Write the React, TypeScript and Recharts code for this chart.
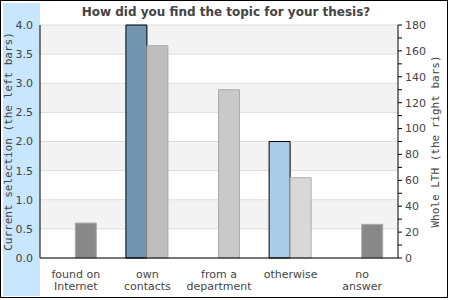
import React from 'react'
import { BarChart, Bar, XAxis, YAxis, CartesianGrid, Cell, Label } from 'recharts'

const categories = ['found on\nInternet', 'own\ncontacts', 'from a\ndepartment', 'otherwise', 'no\nanswer']
const currentSelection = [0, 4, 0, 2, 0]
const wholeLth = [27, 164, 130, 62, 26]

const leftTicks = [0, 0.5, 1, 1.5, 2, 2.5, 3, 3.5, 4]
const rightTicks = [0, 10, 20, 30, 40, 50, 60, 70, 80, 90, 100, 110, 120, 130, 140, 150, 160, 170, 180]

const currentColors = ['#7395b0', '#7395b0', '#7395b0', '#abcce8', '#7395b0']
const wholeColors = ['#888888', '#bebebe', '#c9c9c9', '#d8d8d8', '#888888']

const data = categories.map((category, i) => ({
  category,
  current: currentSelection[i],
  whole: wholeLth[i],
}))

const textColor = '#444'
const sans = 'DejaVu Sans, sans-serif'
const mono = 'DejaVu Sans Mono, monospace'

function CategoryTick({ x, y, payload }: any) {
  const lines = String(payload.value).split('\n')
  return (
    <text x={x} y={y} textAnchor="middle" fill={textColor} fontSize={11} fontFamily={sans}>
      {lines.map((line, i) => (
        <tspan key={i} x={x} dy={i === 0 ? 20 : 12}>
          {line}
        </tspan>
      ))}
    </text>
  )
}

function LeftTick({ x, y, payload }: any) {
  return (
    <text x={x} y={y} dy="0.355em" textAnchor="end" fill={textColor} fontSize={11} fontFamily={sans}>
      {Number(payload.value).toFixed(1)}
    </text>
  )
}

function RightTick({ x, y, payload }: any) {
  if (payload.value % 20 !== 0) return <g />
  return (
    <text x={x} y={y} dy="0.355em" textAnchor="start" fill={textColor} fontSize={11} fontFamily={sans}>
      {payload.value}
    </text>
  )
}

function axisTitle(text: string, cx: number) {
  return ({ viewBox }: any) => {
    const cy = viewBox ? viewBox.y + viewBox.height / 2 : 141.5
    return (
      <text
        transform={`translate(${cx}, ${cy}) rotate(-90)`}
        dy="0.355em"
        textAnchor="middle"
        fill={textColor}
        fontSize={11}
        fontFamily={mono}
      >
        {text}
      </text>
    )
  }
}

export default function App() {
  return (
    <div style={{ position: 'absolute', left: 0, top: 0, width: 450, height: 300, background: '#fff' }}>
      <div
        style={{
          position: 'absolute',
          left: 0,
          top: 0,
          width: 448,
          height: 298,
          border: '1px solid #000',
          boxSizing: 'border-box',
        }}
      />
      <div style={{ position: 'absolute', left: 3, top: 3, width: 37, height: 293, background: '#c8e6fd' }} />
      <div
        style={{
          position: 'absolute',
          left: 0,
          top: 5,
          width: 452,
          textAlign: 'center',
          fontFamily: sans,
          fontWeight: 'bold',
          fontSize: 12,
          lineHeight: '14px',
          color: textColor,
        }}
      >
        How did you find the topic for your thesis?
      </div>
      <div style={{ position: 'absolute', left: 0, top: 0 }}>
        <BarChart
          width={450}
          height={300}
          data={data}
          margin={{ top: 25, right: 0, bottom: 0, left: 0 }}
          barGap={0}
          barCategoryGap="20%"
        >
          <CartesianGrid
            yAxisId="left"
            vertical={false}
            stroke="#dddddd"
            horizontalFill={['#f3f3f3', '#ffffff']}
          />
          <XAxis
            dataKey="category"
            interval={0}
            height={42}
            tickLine={false}
            tickSize={0}
            tickMargin={0}
            axisLine={{ stroke: '#000' }}
            tick={<CategoryTick />}
          />
          <YAxis
            yAxisId="left"
            orientation="left"
            width={40}
            domain={[0, 4]}
            ticks={leftTicks}
            interval={0}
            tickLine={false}
            tickSize={0}
            tickMargin={7}
            axisLine={{ stroke: '#000' }}
            tick={<LeftTick />}
          >
            <Label content={axisTitle('Current selection (the left bars)', 8.5)} />
          </YAxis>
          <YAxis
            yAxisId="right"
            orientation="right"
            width={52}
            domain={[0, 180]}
            ticks={rightTicks}
            interval={0}
            tickSize={4}
            tickMargin={3}
            tickLine={{ stroke: '#000' }}
            axisLine={{ stroke: '#000' }}
            tick={<RightTick />}
          >
            <Label content={axisTitle('Whole LTH (the right bars)', 435)} />
          </YAxis>
          <Bar yAxisId="left" dataKey="current" stroke="#000" strokeWidth={1} isAnimationActive={false}>
            {currentSelection.map((_, i) => (
              <Cell key={i} fill={currentColors[i]} />
            ))}
          </Bar>
          <Bar yAxisId="right" dataKey="whole" stroke="#aaaaaa" strokeWidth={1} isAnimationActive={false}>
            {wholeLth.map((_, i) => (
              <Cell key={i} fill={wholeColors[i]} />
            ))}
          </Bar>
        </BarChart>
      </div>
    </div>
  )
}
